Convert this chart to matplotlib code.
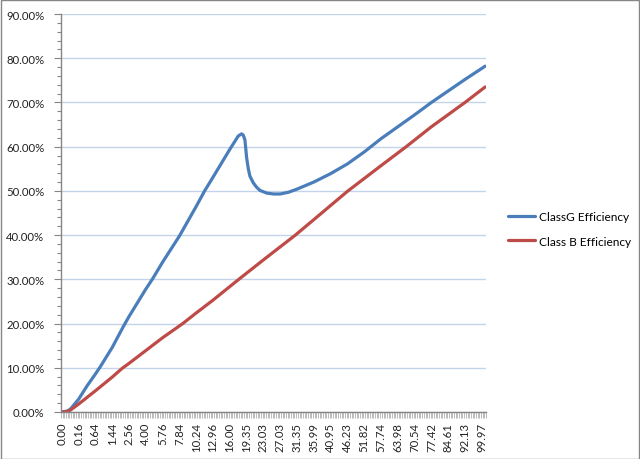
import matplotlib
matplotlib.use('Agg')
import matplotlib.pyplot as plt
from matplotlib.patches import Rectangle
from matplotlib.ticker import FuncFormatter, MultipleLocator
import numpy as np

# category axis: 253 samples, label every 10th sample
n_cat = 253
cat_labels = ['0.00', '0.16', '0.64', '1.44', '2.56', '4.00', '5.76', '7.84',
              '10.24', '12.96', '16.00', '19.35', '23.03', '27.03', '31.35',
              '35.99', '40.95', '46.23', '51.82', '57.74', '63.98', '70.54',
              '77.42', '84.61', '92.13', '99.97']

# sample index -> efficiency (%)
g_idx = [0, 3, 5, 10, 15, 20, 23, 30, 37, 40, 50, 54, 60, 70, 80, 85, 90, 100,
         105, 107, 108, 109, 110, 111, 112, 114, 116, 118, 122, 126, 130, 135,
         140, 150, 160, 170, 180, 184, 190, 200, 210, 220, 230, 240, 252]
g_eff = [0.0, 0.2, 0.6, 2.9, 5.9, 8.6, 10.3, 14.6, 19.6, 21.6, 27.8, 30.1,
         33.9, 39.8, 46.5, 50.0, 53.1, 59.4, 62.4, 62.9, 62.6, 61.5, 57.5,
         55.0, 53.3, 51.8, 50.8, 50.1, 49.5, 49.3, 49.3, 49.7, 50.4, 52.0,
         53.9, 56.1, 58.8, 60.0, 61.8, 64.5, 67.2, 70.0, 72.6, 75.2, 78.2]

b_idx = [0, 3, 5, 10, 20, 30, 36, 40, 50, 60, 72, 80, 90, 105, 120, 139, 150,
         160, 170, 190, 205, 220, 240, 252]
b_eff = [0.0, 0.1, 0.4, 1.8, 4.8, 7.9, 9.9, 11.0, 13.9, 16.8, 20.0, 22.4, 25.3,
         29.9, 34.4, 40.0, 43.5, 46.7, 49.9, 55.7, 60.0, 64.5, 70.0, 73.5]

plt.rcParams['font.family'] = ['Lato', 'DejaVu Sans']

fig = plt.figure(figsize=(6.4, 4.6), dpi=100)
ax = fig.add_axes([61/640, 1-413/460, (486-61)/640, (413-15)/460])

ax.plot(g_idx, np.array(g_eff)/100, color='#4a7ebb', lw=2.3, label='ClassG Efficiency',
        solid_joinstyle='round', solid_capstyle='round')
ax.plot(b_idx, np.array(b_eff)/100, color='#be4b48', lw=2.3, label='Class B Efficiency',
        solid_joinstyle='round', solid_capstyle='round')

ax.set_xlim(-0.5, n_cat - 0.5)
ax.set_ylim(0, 0.9)

# y axis
ax.yaxis.set_major_locator(MultipleLocator(0.1))
ax.yaxis.set_minor_locator(MultipleLocator(0.02))
ax.yaxis.set_major_formatter(FuncFormatter(lambda v, p: '%.2f%%' % (v*100)))
ax.grid(axis='y', which='major', color='#c3d3ea', lw=1)
ax.set_axisbelow(True)

# x axis: tick mark per category, label every 10
ax.set_xticks(np.arange(0, 251, 10))
ax.set_xticklabels(cat_labels, rotation=90)
ax.set_xticks(np.arange(-0.5, n_cat, 1), minor=True)

ax.tick_params(axis='y', which='major', length=5, width=0.8, color='#868686',
               labelsize=8.2, pad=7, labelcolor='#222222')
ax.tick_params(axis='y', which='minor', length=3, width=0.8, color='#868686')
ax.tick_params(axis='x', which='major', length=0, labelsize=8.2, pad=7,
               labelcolor='#222222')
ax.tick_params(axis='x', which='minor', length=4, width=0.5, color='#a0a0a0')

for s in ['top', 'right']:
    ax.spines[s].set_visible(False)
for s in ['left', 'bottom']:
    ax.spines[s].set_color('#868686')
    ax.spines[s].set_linewidth(1)

ax.legend(loc='center left', bbox_to_anchor=(497/640, 1-230/460),
          bbox_transform=fig.transFigure, frameon=False, fontsize=8.6,
          handlelength=2.3, handletextpad=0.35, labelspacing=1.1)

# outer chart border
fig.patches.append(Rectangle((0.001, 0.001), 0.997, 0.997, transform=fig.transFigure,
                             fill=False, edgecolor='#868686', lw=1))

fig.savefig('out.png', dpi=100)
